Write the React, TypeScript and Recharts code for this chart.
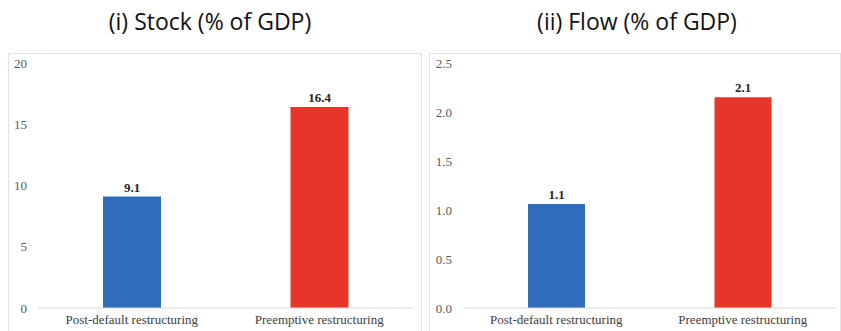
import React from "react";
import { BarChart, Bar, XAxis, YAxis, Cell, LabelList } from "recharts";

const categories = ["Post-default restructuring", "Preemptive restructuring"];
const stockValues = [9.1, 16.4];
const stockLabels = ["9.1", "16.4"];
const flowValues = [1.06, 2.15];
const flowLabels = ["1.1", "2.1"];
const stockTicks = [0, 5, 10, 15, 20];
const flowTicks = [0, 0.5, 1.0, 1.5, 2.0, 2.5];
const barColors = ["#2F6DBC", "#E8352A"];

const stockData = categories.map((c, i) => ({ name: c, value: stockValues[i], label: stockLabels[i] }));
const flowData = categories.map((c, i) => ({ name: c, value: flowValues[i], label: flowLabels[i] }));

const serif = "'Liberation Serif', 'Times New Roman', serif";
const sans = "'Open Sans', 'DejaVu Sans', sans-serif";

function Panel(props: {
  left: number;
  width: number;
  yWidth: number;
  rightMargin: number;
  data: { name: string; value: number; label: string }[];
  ticks: number[];
  domainMax: number;
  tickFmt: (v: number) => string;
  barSize: number;
}) {
  const { left, width, yWidth, rightMargin, data, ticks, domainMax, tickFmt, barSize } = props;
  return (
    <div
      style={{
        position: "absolute",
        left,
        top: 53,
        width,
        height: 300,
        border: "1px solid #e3e3e3",
        boxSizing: "border-box",
        background: "#fff",
        fontFamily: serif,
      }}
    >
      <BarChart
        width={width - 2}
        height={277}
        data={data}
        margin={{ top: 9, right: rightMargin, bottom: 0, left: 0 }}
        style={{ fontFamily: serif }}
      >
        <XAxis
          dataKey="name"
          height={23}
          axisLine={{ stroke: "#d9d9d9" }}
          tickLine={false}
          tickMargin={1}
          tick={{ fill: "#404040", fontSize: 13, style: { fontFamily: serif } }}
          interval={0}
        />
        <YAxis
          width={yWidth}
          domain={[0, domainMax]}
          ticks={ticks}
          axisLine={false}
          tickLine={false}
          tickMargin={5}
          tickFormatter={tickFmt}
          tick={{ fill: "#595959", fontSize: 13, style: { fontFamily: serif } }}
          interval={0}
        />
        <Bar dataKey="value" barSize={barSize} isAnimationActive={false}>
          {data.map((_, i) => (
            <Cell key={i} fill={barColors[i]} />
          ))}
          <LabelList
            dataKey="label"
            position="top"
            offset={5}
            style={{ fill: "#262626", fontSize: 13, fontWeight: "bold", fontFamily: serif }}
          />
        </Bar>
      </BarChart>
    </div>
  );
}

export default function App() {
  return (
    <div
      style={{
        position: "absolute",
        left: 0,
        top: 0,
        width: 841,
        height: 331,
        overflow: "hidden",
        background: "#fff",
      }}
    >
      <div
        style={{
          position: "absolute",
          left: 60,
          width: 300,
          top: 5,
          textAlign: "center",
          fontFamily: sans,
          fontSize: 23,
          color: "#111",
        }}
      >
        (i) Stock (% of GDP)
      </div>
      <div
        style={{
          position: "absolute",
          left: 487,
          width: 300,
          top: 5,
          textAlign: "center",
          fontFamily: sans,
          fontSize: 23,
          color: "#111",
        }}
      >
        (ii) Flow (% of GDP)
      </div>
      <Panel
        left={8}
        width={414}
        yWidth={29}
        rightMargin={8}
        data={stockData}
        ticks={stockTicks}
        domainMax={20}
        tickFmt={(v) => String(v)}
        barSize={58}
      />
      <Panel
        left={429}
        width={412}
        yWidth={33}
        rightMargin={4}
        data={flowData}
        ticks={flowTicks}
        domainMax={2.5}
        tickFmt={(v) => v.toFixed(1)}
        barSize={57}
      />
    </div>
  );
}
